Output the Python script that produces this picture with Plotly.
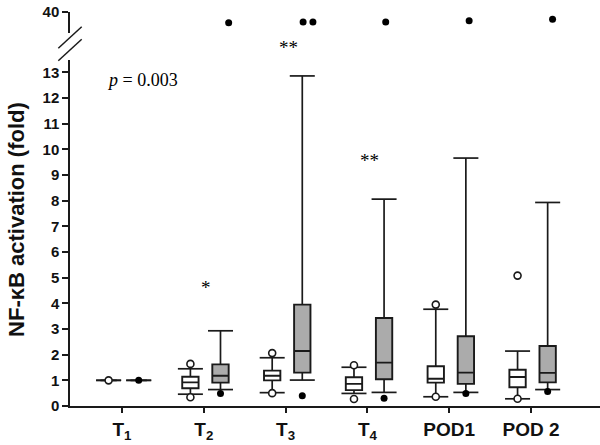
import plotly.graph_objects as go

# ---------------- data ----------------
categories = ["T<sub>1</sub>", "T<sub>2</sub>", "T<sub>3</sub>", "T<sub>4</sub>", "POD1", "POD 2"]

# white boxes (group A)
w_lower = [1.0, 0.46, 0.52, 0.49, 0.36, 0.28]
w_q1 = [1.0, 0.69, 1.00, 0.62, 0.91, 0.73]
w_med = [1.0, 0.92, 1.18, 0.86, 1.06, 1.13]
w_q3 = [1.0, 1.14, 1.38, 1.12, 1.55, 1.41]
w_upper = [1.0, 1.45, 1.88, 1.51, 3.77, 2.14]
w_outliers = [[1.0], [1.64, 0.34], [2.06, 0.50], [1.59, 0.27], [3.95, 0.36], [5.08, 0.28]]

# gray boxes (group B)
g_lower = [1.0, 0.64, 1.01, 0.53, 0.53, 0.64]
g_q1 = [1.0, 0.91, 1.30, 1.04, 0.86, 0.92]
g_med = [1.0, 1.18, 2.14, 1.69, 1.30, 1.29]
g_q3 = [1.0, 1.62, 3.95, 3.43, 2.72, 2.34]
g_upper = [1.0, 2.93, 12.86, 8.06, 9.66, 7.93]
g_outliers = [[1.0], [0.49], [0.40], [0.30], [0.49], [0.56]]

# gray-group extreme outliers (upper broken segment)
g_far_group = [1, 2, 2, 3, 4, 5]
g_far_jitter = [0.10, 0.01, 0.13, 0.02, 0.04, 0.06]
g_far_values = [34.8, 35.2, 35.2, 35.2, 35.8, 36.4]

sig_labels = ["*", "**", "**"]
sig_group = [1, 2, 3]
sig_values = [4.71, 14.06, 9.66]
p_text = "<i>p</i> = 0.003"

# ---------------- layout constants ----------------
W_OFF, G_OFF = -0.164, 0.204
BOX_W = 0.2
CAP_HALF = 0.153
LOW_MAX = 13.48
LOW_TOP = 0.8737
LINE = "#1a1a1a"
GRAY = "#ababab"

fig = go.Figure()


def add_group(off, lower, q1, med, q3, upper, outliers, fill, open_marker):
    xs = [i + off for i in range(len(categories))]
    fig.add_trace(go.Box(
        x=xs, q1=q1, median=med, q3=q3, lowerfence=q1, upperfence=q3,
        width=BOX_W, whiskerwidth=0, fillcolor=fill,
        line=dict(color=LINE, width=1.9), boxpoints=False,
        hoverinfo="skip", showlegend=False))
    wx, wy = [], []
    for x, lo, a, b, hi in zip(xs, lower, q1, q3, upper):
        wx += [x, x, None, x - CAP_HALF, x + CAP_HALF, None,
               x, x, None, x - CAP_HALF, x + CAP_HALF, None]
        wy += [b, hi, None, hi, hi, None, a, lo, None, lo, lo, None]
    fig.add_trace(go.Scatter(x=wx, y=wy, mode="lines",
                             line=dict(color=LINE, width=1.7),
                             hoverinfo="skip", showlegend=False))
    ox, oy = [], []
    for x, vals in zip(xs, outliers):
        for v in vals:
            ox.append(x)
            oy.append(v)
    if open_marker:
        marker = dict(size=7, color="white", line=dict(color=LINE, width=1.6))
    else:
        marker = dict(size=7, color="black", line=dict(width=0))
    fig.add_trace(go.Scatter(x=ox, y=oy, mode="markers", marker=marker,
                             cliponaxis=False, showlegend=False))


add_group(W_OFF, w_lower, w_q1, w_med, w_q3, w_upper, w_outliers, "white", True)
add_group(G_OFF, g_lower, g_q1, g_med, g_q3, g_upper, g_outliers, GRAY, False)

fig.add_trace(go.Scatter(
    x=[g + G_OFF + j for g, j in zip(g_far_group, g_far_jitter)],
    y=g_far_values, yaxis="y2", mode="markers",
    marker=dict(size=7, color="black"), cliponaxis=False, showlegend=False))


def to_paper(v):
    return v / LOW_MAX * LOW_TOP


for lab, g, v in zip(sig_labels, sig_group, sig_values):
    fig.add_annotation(x=g + 0.03, y=to_paper(v), xref="x", yref="paper",
                       xanchor="center", yanchor="middle", yshift=-2,
                       text=lab, showarrow=False,
                       font=dict(family="Liberation Serif", size=19, color="black"))

fig.add_annotation(x=-0.21, y=to_paper(12.7), xref="x", yref="paper",
                   xanchor="left", yanchor="middle",
                   text=p_text, showarrow=False,
                   font=dict(family="Liberation Serif", size=18, color="black"))

fig.add_annotation(x=-0.1, y=0.47, xref="paper", yref="paper", textangle=-90,
                   xanchor="center", yanchor="middle",
                   text="NF-κB activation (fold)", showarrow=False,
                   font=dict(family="Liberation Sans", size=22, color="#111", weight="bold"))

# axis break marks
for yc in [0.9306, 0.899]:
    fig.add_shape(type="line", xref="paper", yref="paper",
                  xsizemode="pixel", ysizemode="pixel", xanchor=0, yanchor=yc,
                  x0=-11.7, x1=11.7, y0=-10.8, y1=10.8,
                  line=dict(color=LINE, width=1.5))

fig.update_layout(
    width=600, height=445,
    margin=dict(l=70, r=0, t=10, b=39),
    paper_bgcolor="white", plot_bgcolor="white",
    boxmode="overlay",
    xaxis=dict(range=[-0.636, 5.844], tickvals=list(range(len(categories))),
               ticktext=categories, showgrid=False, zeroline=False,
               showline=True, linecolor=LINE, linewidth=1.5,
               ticks="outside", ticklen=5, tickwidth=1.5, tickcolor=LINE,
               tickfont=dict(family="Liberation Sans", size=19, color="#111", weight="bold"),
               anchor="y", automargin=False),
    yaxis=dict(domain=[0, LOW_TOP], range=[0, LOW_MAX], dtick=1, tick0=0,
               showgrid=False, zeroline=False, showline=True, linecolor=LINE,
               linewidth=1.5, ticks="outside", ticklen=6, tickwidth=1.5,
               tickcolor=LINE, automargin=False,
               tickfont=dict(family="Liberation Sans", size=15, color="#111", weight="bold")),
    yaxis2=dict(domain=[0.9419, 0.9957], range=[30, 40], tickvals=[40],
                showgrid=False, zeroline=False, showline=True, linecolor=LINE,
                linewidth=1.5, ticks="outside", ticklen=6, tickwidth=1.5,
                tickcolor=LINE, anchor="x", automargin=False,
                tickfont=dict(family="Liberation Sans", size=15, color="#111", weight="bold")),
)

fig.write_html("out.html", config={"displayModeBar": False},
               post_script="document.body.style.margin='0px';")
